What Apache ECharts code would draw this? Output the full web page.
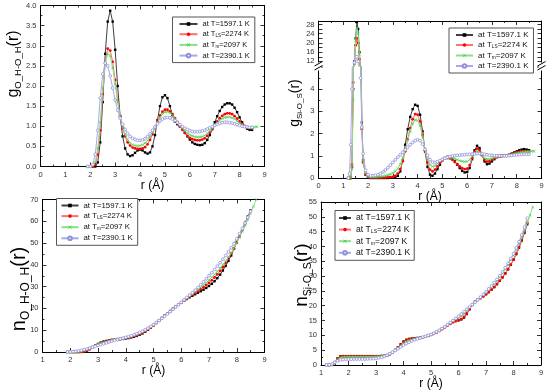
<!DOCTYPE html>
<html><head><meta charset="utf-8">
<script src="https://cdn.jsdelivr.net/npm/echarts@6/dist/echarts.min.js"></script>
<style>html,body{margin:0;padding:0;background:#fff}#c{width:550px;height:390px}</style>
</head><body><div id="c"></div><script>
// ---------- data ----------
const seriesNames = ['at T=1597.1 K', 'at T_LS=2274 K', 'at T_m=2097 K', 'at T=2390.1 K'];

// r grid for panels (a) and (c): 1.9 ... 8.7 Å
const rA = [1.9,2.0,2.1,2.2,2.3,2.4,2.5,2.6,2.7,2.8,2.9,3.0,3.1,3.2,3.3,3.4,3.5,3.6,3.7,3.8,3.9,4.0,4.1,4.2,4.3,4.4,4.5,4.6,4.7,4.8,4.9,5.0,5.1,5.2,5.3,5.4,5.5,5.6,5.7,5.8,5.9,6.0,6.1,6.2,6.3,6.4,6.5,6.6,6.7,6.8,6.9,7.0,7.1,7.2,7.3,7.4,7.5,7.6,7.7,7.8,7.9,8.0,8.1,8.2,8.3,8.4,8.5,8.6,8.7];
// r grid for panel (b)
const rB = [1.2,1.25,1.3,1.35,1.4,1.45,1.5,1.55,1.6,1.65,1.7,1.75,1.8,1.9,2.0,2.1,2.2,2.3,2.4,2.5,2.6,2.7,2.8,2.9,3.0,3.1,3.2,3.3,3.4,3.5,3.6,3.7,3.8,3.9,4.0,4.1,4.2,4.3,4.4,4.5,4.6,4.7,4.8,4.9,5.0,5.1,5.2,5.3,5.4,5.5,5.6,5.7,5.8,5.9,6.0,6.1,6.2,6.3,6.4,6.5,6.6,6.7,6.8,6.9,7.0,7.1,7.2,7.3,7.4,7.5,7.6,7.7,7.8,7.9,8.0,8.1,8.2,8.3,8.4,8.5,8.6,8.7];
// r grid for panel (d)
const rC = [1.2,1.3,1.4,1.5,1.6,1.7,1.8,1.9,2.0,2.1,2.2,2.3,2.4,2.5,2.6,2.7,2.8,2.9,3.0,3.1,3.2,3.3,3.4,3.5,3.6,3.7,3.8,3.9,4.0,4.1,4.2,4.3,4.4,4.5,4.6,4.7,4.8,4.9,5.0,5.1,5.2,5.3,5.4,5.5,5.6,5.7,5.8,5.9,6.0,6.1,6.2,6.3,6.4,6.5,6.6,6.7,6.8,6.9,7.0,7.1,7.2,7.3,7.4,7.5,7.6,7.7,7.8,7.9,8.0,8.1,8.2,8.3,8.4,8.5,8.6,8.7];

// (a) g_OH-OH(r)
const gOH_1597 = [0,0,0,0,0.1,0.6,1.6,2.8,3.6,3.87,3.6,2.9,2.0,1.25,0.75,0.45,0.3,0.26,0.28,0.34,0.4,0.42,0.4,0.35,0.32,0.35,0.5,0.78,1.15,1.5,1.72,1.77,1.7,1.5,1.28,1.12,1.05,1.0,0.93,0.84,0.75,0.67,0.6,0.56,0.54,0.53,0.54,0.58,0.66,0.78,0.93,1.1,1.25,1.38,1.48,1.54,1.57,1.57,1.54,1.46,1.35,1.22,1.1,1.0,0.94,0.91,0.91];
const gOH_2274 = [0,0,0,0.05,0.3,0.9,1.8,2.55,2.93,2.88,2.6,2.15,1.65,1.25,0.95,0.75,0.6,0.52,0.47,0.45,0.44,0.44,0.45,0.48,0.55,0.66,0.8,0.97,1.13,1.27,1.36,1.41,1.41,1.37,1.3,1.2,1.1,1.0,0.91,0.83,0.76,0.71,0.68,0.66,0.65,0.65,0.67,0.7,0.76,0.84,0.93,1.03,1.12,1.2,1.26,1.3,1.32,1.32,1.3,1.25,1.19,1.12,1.06,1.01,0.98,0.96,0.95];
const gOH_2097 = [0,0,0.02,0.1,0.45,1.1,1.95,2.55,2.8,2.75,2.45,2.05,1.6,1.25,0.98,0.8,0.67,0.59,0.54,0.52,0.51,0.52,0.54,0.58,0.64,0.73,0.85,0.98,1.1,1.21,1.3,1.35,1.36,1.33,1.27,1.19,1.1,1.02,0.95,0.88,0.83,0.79,0.76,0.74,0.73,0.73,0.74,0.77,0.82,0.88,0.95,1.02,1.09,1.15,1.19,1.22,1.23,1.23,1.21,1.18,1.13,1.08,1.04,1.0,0.98,0.97,0.97,0.98,0.99];
const gOH_2390 = [0,0,0.05,0.3,0.9,1.7,2.3,2.57,2.5,2.25,1.95,1.65,1.4,1.2,1.05,0.92,0.82,0.75,0.7,0.67,0.65,0.65,0.66,0.69,0.74,0.81,0.9,0.98,1.06,1.13,1.18,1.21,1.22,1.21,1.18,1.14,1.09,1.04,0.99,0.95,0.92,0.89,0.87,0.86,0.86,0.87,0.88,0.9,0.93,0.96,0.99,1.02,1.05,1.07,1.09,1.1,1.1,1.09,1.08,1.06,1.04,1.02,1.0,0.99,0.98,0.97,0.97];

// (b) g_Si-OS(r)
const gSi_1597 = [0,0,0,0.5,4,12,22,29,26,16,7,2.5,0.8,0.15,0.03,0,0,0,0,0,0,0,0,0.01,0.02,0.05,0.1,0.3,0.8,1.5,2.2,2.75,3.1,3.3,3.25,2.85,2.1,1.2,0.5,0.15,0.1,0.2,0.4,0.6,0.8,0.9,0.95,0.95,0.88,0.75,0.6,0.45,0.32,0.25,0.27,0.45,0.85,1.25,1.45,1.35,1.05,0.75,0.62,0.65,0.75,0.85,0.95,1.0,1.02,1.02,1.02,1.05,1.1,1.15,1.2,1.25,1.28,1.3,1.28,1.25];
const gSi_2274 = [0,0,0,0.6,4.3,11,19,22,20,13,6,2.2,0.7,0.15,0.04,0.02,0.02,0.02,0.02,0.02,0.02,0.02,0.03,0.04,0.05,0.1,0.2,0.4,0.75,1.2,1.75,2.25,2.65,2.88,2.85,2.55,1.95,1.25,0.7,0.38,0.3,0.38,0.52,0.68,0.8,0.88,0.9,0.88,0.82,0.72,0.62,0.52,0.44,0.4,0.42,0.58,0.9,1.18,1.32,1.25,1.02,0.82,0.74,0.76,0.82,0.88,0.93,0.96,0.98,0.99,1.0,1.03,1.07,1.11,1.15,1.18,1.2,1.21,1.2,1.2];
const gSi_2097 = [0,0,0,0.4,3.5,11,21,26.5,24,15,6.5,2.3,0.8,0.2,0.06,0.04,0.04,0.04,0.05,0.06,0.08,0.1,0.13,0.17,0.22,0.3,0.42,0.62,0.9,1.28,1.7,2.1,2.45,2.62,2.6,2.35,1.85,1.3,0.85,0.6,0.52,0.55,0.65,0.76,0.85,0.9,0.92,0.92,0.9,0.86,0.82,0.78,0.75,0.73,0.74,0.82,0.98,1.12,1.2,1.15,1.02,0.9,0.85,0.85,0.88,0.92,0.95,0.97,0.99,1.0,1.01,1.03,1.06,1.09,1.12,1.15,1.17,1.18,1.19,1.2,1.2,1.21];
const gSi_2390 = [0,0.2,1.5,4,8,11.5,13.8,14,12,8,4.5,2.3,1.1,0.35,0.15,0.1,0.1,0.12,0.15,0.2,0.27,0.36,0.46,0.58,0.7,0.82,0.94,1.05,1.16,1.27,1.38,1.5,1.6,1.68,1.72,1.68,1.52,1.28,1.02,0.82,0.72,0.7,0.73,0.78,0.84,0.89,0.93,0.96,0.99,1.01,1.02,1.03,1.04,1.05,1.06,1.07,1.08,1.09,1.1,1.1,1.09,1.07,1.05,1.03,1.02,1.01,1.0,1.0,1.0,1.0,1.0,1.01,1.02,1.03,1.04,1.05,1.06,1.07,1.07,1.07];

// (c) n_OH-OH(r)
const nOH_1597 = [0,0,0,0,0,0.05,0.2,0.6,1.3,2.2,3.0,3.7,4.3,4.8,5.1,5.3,5.5,5.6,5.7,5.85,6.0,6.2,6.4,6.7,7.0,7.4,7.9,8.5,9.3,10.2,11.2,12.3,13.4,14.5,15.6,16.7,17.7,18.8,19.8,20.8,21.8,22.7,23.5,24.3,25.1,25.8,26.5,27.2,27.9,28.6,29.4,30.3,31.3,32.5,33.9,35.5,37.4,39.5,41.8,44.3,47.5,50.5,53.5,56.5,59.3,62.2,65.0];
const nOH_2274 = [0,0,0,0,0,0.05,0.25,0.7,1.4,2.2,2.9,3.5,4.0,4.5,4.9,5.2,5.5,5.7,5.9,6.1,6.3,6.5,6.7,7.0,7.3,7.7,8.2,8.8,9.5,10.3,11.2,12.2,13.3,14.4,15.5,16.6,17.6,18.7,19.7,20.7,21.7,22.7,23.6,24.5,25.4,26.2,27.0,27.9,28.8,29.7,30.7,31.7,32.9,34.2,35.6,37.2,38.9,40.8,42.9,45.1,47.5,50.2,53.0,55.9,58.8,61.8,64.7];
const nOH_2097 = [0,0,0,0.05,0.15,0.35,0.7,1.2,1.8,2.4,3.0,3.5,4.0,4.4,4.8,5.1,5.4,5.7,5.9,6.1,6.4,6.6,6.9,7.2,7.6,8.0,8.5,9.1,9.8,10.6,11.5,12.4,13.4,14.5,15.5,16.6,17.6,18.7,19.7,20.7,21.7,22.7,23.7,24.7,25.6,26.6,27.6,28.6,29.6,30.7,31.8,33.0,34.3,35.6,37.0,38.5,40.1,41.8,43.6,45.5,47.8,50.2,52.7,55.3,58.0,60.8,63.7,66.8,70.0];
const nOH_2390 = [0,0.05,0.15,0.3,0.5,0.75,1.05,1.4,1.8,2.2,2.6,3.0,3.4,3.8,4.2,4.6,5.0,5.35,5.7,6.0,6.35,6.7,7.05,7.45,7.9,8.4,8.95,9.55,10.2,10.95,11.75,12.6,13.5,14.45,15.45,16.45,17.5,18.55,19.6,20.65,21.7,22.8,23.9,25.0,26.1,27.2,28.4,29.6,30.9,32.2,33.6,35.0,36.4,37.9,39.4,41.0,42.6,44.3,46.0,47.8,49.8,52.0,54.3,56.7,59.2,61.8,64.5];

// (d) n_Si-OS(r)
const nSi_1597 = [0,0,0.05,0.8,2.2,2.9,3.0,3.0,3.0,3.0,3.0,3.0,3.0,3.0,3.0,3.0,3.0,3.0,3.0,3.0,3.05,3.1,3.3,3.7,4.3,5.1,6.0,7.0,7.9,8.5,8.8,8.9,9.0,9.1,9.2,9.4,9.6,9.9,10.2,10.6,11.1,11.6,12.2,12.8,13.5,14.1,14.6,14.9,15.1,15.4,16.0,17.2,18.8,20.3,21.3,22.0,22.6,23.2,23.9,24.6,25.4,26.3,27.3,28.4,29.6,30.9,32.3,33.8,35.5,37.4,39.6,42.0,44.6,47.5];
const nSi_2274 = [0,0,0.05,0.7,2.1,2.8,2.9,2.9,2.9,2.9,2.9,2.9,2.9,2.9,2.9,2.9,2.9,2.9,2.9,2.9,2.95,3.0,3.2,3.6,4.2,5.0,5.9,6.9,7.8,8.4,8.7,8.85,8.95,9.05,9.2,9.35,9.6,9.85,10.15,10.55,11.0,11.5,12.1,12.7,13.3,13.9,14.4,14.8,15.1,15.5,16.2,17.4,18.9,20.3,21.3,22.0,22.6,23.2,23.9,24.6,25.4,26.3,27.3,28.4,29.6,30.9,32.3,33.9,35.6,37.6,39.8,42.3,45.0,48.0];
const nSi_2097 = [0,0,0.05,0.6,1.8,2.5,2.7,2.75,2.8,2.8,2.8,2.8,2.8,2.8,2.8,2.8,2.8,2.82,2.85,2.9,3.0,3.1,3.4,3.8,4.3,5.0,5.8,6.6,7.3,7.9,8.3,8.6,8.8,9.0,9.2,9.4,9.7,10.0,10.3,10.7,11.2,11.7,12.3,12.9,13.6,14.3,14.9,15.4,15.9,16.5,17.3,18.3,19.4,20.4,21.3,22.1,22.9,23.7,24.5,25.4,26.3,27.3,28.4,29.6,30.9,32.3,33.8,35.4,37.1,38.9,40.9,43.1,45.4,47.9,50.5,53.3];
const nSi_2390 = [0,0.05,0.3,0.9,1.4,1.7,1.85,1.9,1.95,1.95,2.0,2.0,2.0,2.0,2.0,2.05,2.1,2.15,2.2,2.4,2.6,2.9,3.3,3.8,4.3,4.9,5.5,6.1,6.7,7.2,7.7,8.1,8.5,8.8,9.1,9.4,9.7,10.0,10.3,10.7,11.2,11.7,12.3,12.9,13.6,14.3,15.0,15.7,16.4,17.2,18.0,18.8,19.6,20.4,21.2,22.0,22.9,23.8,24.7,25.7,26.7,27.8,28.9,30.1,31.4,32.8,34.3,35.9,37.6,39.5,41.6,43.9,46.5,49.5];

// tick labels / names
const xName = 'r (Å)';

// ---------- styling ----------
const FONT = '"Liberation Sans", Arial, sans-serif';
const XSYM = 'path://M0,1L1,0L5,4L9,0L10,1L6,5L10,9L9,10L5,6L1,10L0,9L4,5Z';
const sty = [
  {color:'#000000', border:'#000000', line:'#404040', symbol:'rect', size:2.4, bw:0},
  {color:'#ff0000', border:'#ff0000', line:'#ff7070', symbol:'circle', size:2.8, bw:0},
  {color:'#33cc33', border:'#33cc33', line:'#88e088', symbol:XSYM, size:3, bw:0},
  {color:'#ffffff', border:'#9090dc', line:'#a8a8ea', symbol:'circle', size:2.8, bw:0.8}
];

const grids = [
  {left:40.5, top:5.5, width:224, height:161},
  {left:318.5, top:21, width:223, height:45},
  {left:318.5, top:67, width:223, height:111},
  {left:42.5, top:199.5, width:222, height:152.5},
  {left:321, top:202, width:220, height:163}
];

const axCommon = {
  axisLine:{show:true, onZero:false, lineStyle:{color:'#000', width:1}},
  axisTick:{show:true, inside:true, length:4, lineStyle:{color:'#000', width:0.8}},
  minorTick:{show:true, splitNumber:2, length:2, lineStyle:{color:'#000', width:0.8}},
  splitLine:{show:false},
  axisLabel:{show:true, fontSize:7.5, color:'#333', fontFamily:FONT, margin:4}
};
function ax(extra) { return echarts.util.merge(echarts.util.clone(axCommon), extra, true); }

const xAxes = [], yAxes = [];
const xCfg = [
  {min:0, max:9, gap:5, showBottom:true, showTop:true},
  {min:0, max:9, gap:5, showBottom:false, showTop:true},
  {min:0, max:9, gap:5, showBottom:true, showTop:false},
  {min:1, max:9, gap:9, showBottom:true, showTop:true},
  {min:1, max:9, gap:8, showBottom:true, showTop:true}
];
const yCfg = [
  {min:0, max:4, interval:0.5, fmt:v=>v.toFixed(1), minor:true},
  {min:10, max:29.5, interval:2, fmt:v=>(v%4===0 && v>=12)?String(v):'', minor:false},
  {min:0, max:5, interval:1, fmt:v=>v===5?'':String(v), minor:true},
  {min:0, max:70, interval:10, fmt:v=>String(v), minor:true},
  {min:0, max:55, interval:5, fmt:v=>String(v), minor:true}
];
xCfg.forEach((c,g)=>{
  xAxes.push(ax({type:'value', gridIndex:g, position:'bottom', min:c.min, max:c.max, interval:1,
    show:c.showBottom,
    name:c.showBottom?xName:'', nameLocation:'middle', nameGap:c.gap,
    nameTextStyle:{fontSize:12, color:'#000', fontFamily:FONT, verticalAlign:'top'},
    axisLabel:{formatter:v=>String(v)}}));
  xAxes.push(ax({type:'value', gridIndex:g, position:'top', min:c.min, max:c.max, interval:1,
    show:c.showTop, axisLabel:{show:false}}));
});
yCfg.forEach((c,g)=>{
  yAxes.push(ax({type:'value', gridIndex:g, position:'left', min:c.min, max:c.max, interval:c.interval,
    axisLabel:{formatter:c.fmt}, minorTick:{show:c.minor}}));
  yAxes.push(ax({type:'value', gridIndex:g, position:'right', min:c.min, max:c.max, interval:c.interval,
    axisLabel:{show:false}, minorTick:{show:c.minor}}));
});

function mk(si, r, vals, g) {
  const s = sty[si];
  return {
    type:'line', name:seriesNames[si], xAxisIndex:2*g, yAxisIndex:2*g,
    data: vals.map((v,i)=>[r[i], v]),
    symbol:s.symbol, symbolSize:s.size, showAllSymbol:true, clip:true,
    lineStyle:{color:s.line, width:1},
    itemStyle:{color:s.color, borderColor:s.border, borderWidth:s.bw},
    emphasis:{disabled:true}, animation:false, z: 2+si
  };
}
const series = [];
[gOH_1597,gOH_2274,gOH_2097,gOH_2390].forEach((d,i)=>series.push(mk(i, rA, d, 0)));
[gSi_1597,gSi_2274,gSi_2097,gSi_2390].forEach((d,i)=>{ series.push(mk(i, rB, d, 1)); series.push(mk(i, rB, d, 2)); });
[nOH_1597,nOH_2274,nOH_2097,nOH_2390].forEach((d,i)=>series.push(mk(i, rA, d, 3)));
[nSi_1597,nSi_2274,nSi_2097,nSi_2390].forEach((d,i)=>series.push(mk(i, rC, d, 4)));

function legendFmt(name) {
  const m = name.match(/^(at T)_(\w+)(=.*)$/);
  if (m) return '{n|' + m[1] + '}{s|' + m[2] + '}{n|' + m[3] + '}';
  return '{n|' + name + '}';
}
function legend(left, top, fs, iw, pad, gap) {
  return {
    left, top, orient:'vertical', data:seriesNames, selectedMode:false,
    itemWidth:iw, itemHeight:4.5, itemGap:gap, padding:pad,
    borderColor:'#555', borderWidth:1, backgroundColor:'#fff',
    formatter:legendFmt,
    textStyle:{fontFamily:FONT, color:'#111',
      rich:{n:{fontSize:fs, fontFamily:FONT, color:'#111', lineHeight:9},
            s:{fontSize:fs*0.6, fontFamily:FONT, color:'#111', verticalAlign:'bottom', lineHeight:6}}}
  };
}

function yName(x, y, main, sub, F, S) {
  return {type:'text', x, y, rotation:Math.PI/2, z:100, silent:true,
    style:{text:'{m|'+main+'}{s|'+sub+'}{m|(r)}', align:'center', verticalAlign:'middle',
      rich:{m:{fontSize:F, fontFamily:FONT, fill:'#000', color:'#000', lineHeight:F*1.22, verticalAlign:'middle'},
            s:{fontSize:S, fontFamily:FONT, fill:'#000', color:'#000', lineHeight:S, verticalAlign:'bottom'}}}};
}
function brk(x, y) {
  return [
    {type:'rect', shape:{x:x-3, y:y-4, width:6, height:8}, style:{fill:'#fff'}, z:100, silent:true},
    {type:'line', shape:{x1:x-4, y1:y-0.5, x2:x+4, y2:y-5}, style:{stroke:'#000', lineWidth:1}, z:101, silent:true},
    {type:'line', shape:{x1:x-4, y1:y+3.5, x2:x+4, y2:y-1}, style:{stroke:'#000', lineWidth:1}, z:101, silent:true}
  ];
}

const option = {
  animation:false,
  backgroundColor:'#fff',
  grid: grids.map(g=>Object.assign({containLabel:false, outerBoundsMode:'none'}, g)),
  xAxis: xAxes,
  yAxis: yAxes,
  legend: [
    legend(172.5, 17, 7.5, 18, [3,5,3,6], 2.2),
    legend(449, 28, 8, 17, [3,5,3,6], 2),
    legend(56.5, 198.5, 7.8, 17, [3,5,3,4], 2.6),
    legend(335, 210.5, 8.6, 12, [3,4,3,3], 2.6)
  ],
  graphic: [
    yName(14, 64, 'g', 'O_H-O_H', 16, 9.5),
    yName(295, 103, 'g', 'Si-O_S', 14, 8),
    yName(19, 289, 'n', 'O_H-O_H', 20, 12),
    yName(302, 275, 'n', 'Si-O_S', 19, 10.5)
  ].concat(brk(318.5, 66.5), brk(541.5, 66.5)),
  series
};
const chart = echarts.init(document.getElementById('c'), null, {renderer:'canvas'});
chart.setOption(option);
</script></body></html>
